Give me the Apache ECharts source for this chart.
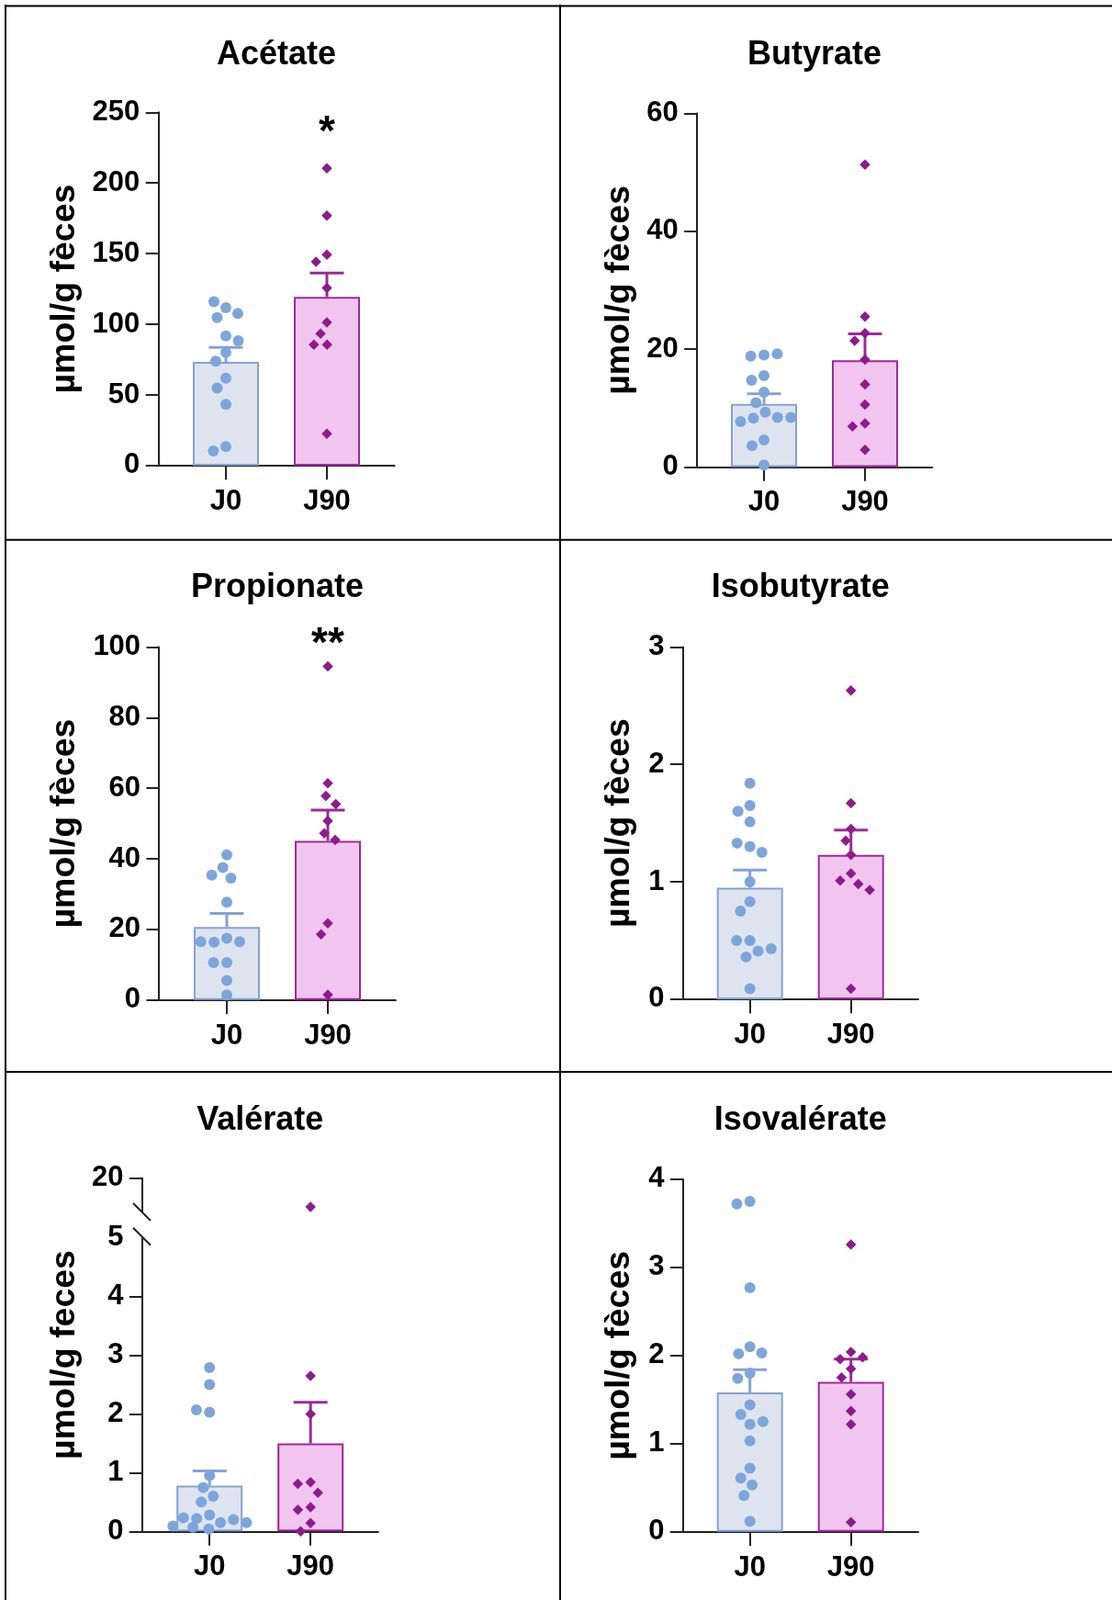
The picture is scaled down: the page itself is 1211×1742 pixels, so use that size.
<!DOCTYPE html>
<html>
<head>
<meta charset="utf-8">
<script src="https://cdn.jsdelivr.net/npm/echarts@6/dist/echarts.min.js"></script>
<style>
html,body{margin:0;padding:0;background:#fff;}
#chart{width:1211px;height:1742px;}
</style>
</head>
<body>
<div id="chart"></div>
<script>
// ---------------- DATA ----------------
const categories = ['J0', 'J90'];

// Acétate
const acetateJ0 = [111.8, 116, 107.6, 104.7, 91.7, 88.3, 80, 73.9, 61.9, 54.8, 43.3, 13.5, 10.3];
const acetateJ90 = [210.4, 176.9, 149.2, 144.3, 125.7, 101.3, 93.4, 85.6, 85.6, 22.5];
const acetateMean = [73.4, 119.4];
const acetateSem = [10.3, 16.9];
const acetateTicks = [0, 50, 100, 150, 200, 250];

// Butyrate
const butyrateJ0 = [19.0, 18.8, 19.2, 15.5, 14.7, 12.7, 10.9, 9.3, 8.3, 8.4, 7.7, 8.4, 4.6, 3.6, 0.35];
const butyrateJ90 = [51.3, 25.5, 22.7, 21.4, 18.2, 14.0, 10.6, 7.4, 6.9, 2.9];
const butyrateMean = [10.7, 18.1];
const butyrateSem = [1.7, 4.5];
const butyrateTicks = [0, 20, 40, 60];

// Propionate
const propionateJ0 = [41.1, 37.5, 34.5, 35.4, 27.7, 17.5, 16.4, 16.5, 16.5, 10.6, 10.6, 5.5, 1.4];
const propionateJ90 = [94.5, 61.4, 57.8, 55.5, 50.7, 47.2, 45.3, 21.7, 18.6, 1.5];
const propionateMean = [20.7, 45.1];
const propionateSem = [3.8, 8.7];
const propionateTicks = [0, 20, 40, 60, 80, 100];

// Isobutyrate
const isobutyrateJ0 = [1.84, 1.65, 1.60, 1.51, 1.30, 1.33, 1.25, 1.00, 0.83, 0.75, 0.50, 0.50, 0.41, 0.43, 0.36, 0.09];
const isobutyrateJ90 = [2.63, 1.67, 1.45, 1.35, 1.23, 1.07, 1.01, 0.98, 0.93, 0.09];
const isobutyrateMean = [0.95, 1.23];
const isobutyrateSem = [0.15, 0.21];
const isobutyrateTicks = [0, 1, 2, 3];

// Valérate (broken axis: 0-5 and 5-20)
const valerateJ0 = [2.79, 2.50, 2.03, 2.07, 0.95, 0.75, 0.60, 0.50, 0.28, 0.22, 0.15, 0.20, 0.23, 0.15, 0.09, 0.04, 0.07];
const valerateJ90 = [7.2, 2.65, 2.0, 0.84, 0.81, 0.66, 0.41, 0.37, 0.14, 0.0];
const valerateMean = [0.78, 1.50];
const valerateSem = [0.25, 0.70];
const valerateTicksLower = [0, 1, 2, 3, 4, 5];
const valerateTicksUpper = [5, 20];

// Isovalérate
const isovalerateJ0 = [3.75, 3.72, 2.77, 2.10, 2.02, 2.03, 1.80, 1.74, 1.44, 1.33, 1.22, 1.25, 1.03, 0.72, 0.61, 0.53, 0.41, 0.12];
const isovalerateJ90 = [3.26, 2.04, 1.96, 1.98, 1.85, 1.75, 1.56, 1.37, 1.22, 0.11];
const isovalerateMean = [1.58, 1.70];
const isovalerateSem = [0.26, 0.26];
const isovalerateTicks = [0, 1, 2, 3, 4];

// ---------------- STYLE / LAYOUT ----------------
const FONT = "'Liberation Sans', Arial, Helvetica, sans-serif";
const AX = '#222222';
const COL = [
  {fill: '#dde4f0', border: '#86a2cf', dot: '#7ea5da', err: '#86a2cf'},
  {fill: '#f2c5f1', border: '#9c2b97', dot: '#8d1b8a', err: '#9c2b97'}
];

const panels = [
  {title: 'Acétate', name: 'µmol/g fèces', j0: acetateJ0, j90: acetateJ90, mean: acetateMean, sem: acetateSem, ticks: acetateTicks, sig: '*',
   axisX: 172.3, c: 301, top: 122.3, bottom: 506.9, titleY: 60, sigY: 145.5, nameRight: 90},
  {title: 'Butyrate', name: 'µmol/g fèces', j0: butyrateJ0, j90: butyrateJ90, mean: butyrateMean, sem: butyrateSem, ticks: butyrateTicks, sig: '',
   axisX: 758.8, c: 887, top: 123.4, bottom: 508.4, titleY: 60, nameRight: 694},
  {title: 'Propionate', name: 'µmol/g fèces', j0: propionateJ0, j90: propionateJ90, mean: propionateMean, sem: propionateSem, ticks: propionateTicks, sig: '**',
   axisX: 173.1, c: 302, top: 704.4, bottom: 1088.7, titleY: 640, sigY: 702.5, nameRight: 90},
  {title: 'Isobutyrate', name: 'µmol/g fèces', j0: isobutyrateJ0, j90: isobutyrateJ90, mean: isobutyrateMean, sem: isobutyrateSem, ticks: isobutyrateTicks, sig: '',
   axisX: 743.4, c: 871.7, top: 704.4, bottom: 1087.9, titleY: 640, nameRight: 694},
  {title: 'Valérate', name: 'µmol/g feces', j0: valerateJ0, j90: valerateJ90, mean: valerateMean, sem: valerateSem, ticks: valerateTicksLower, upperTicks: valerateTicksUpper, sig: '',
   axisX: 154.5, c: 283.2, top: 1347.9, bottom: 1667.3, upperTop: 1282.7, upperBottom: 1319.5, titleY: 1220.5, nameRight: 90},
  {title: 'Isovalérate', name: 'µmol/g fèces', j0: isovalerateJ0, j90: isovalerateJ90, mean: isovalerateMean, sem: isovalerateSem, ticks: isovalerateTicks, sig: '',
   axisX: 743.4, c: 871.7, top: 1283.9, bottom: 1667.7, titleY: 1220.5, nameRight: 694}
];

const grid = [], xAxis = [], yAxis = [], series = [], graphic = [];
const BAND = 110, BARW = 72, CAP = 18.5;

const labelText = {fontFamily: FONT, fontWeight: 'bold', fontSize: 31, color: '#000'};

function addFrame(p, top, bottom) {
  const gi = grid.length;
  grid.push({left: p.axisX, top: top, width: 2 * (p.c - p.axisX), height: bottom - top});
  xAxis.push({gridIndex: gi, type: 'value', min: 0, max: 1,
    axisLine: {show: true, onZero: false, lineStyle: {color: AX, width: 2}},
    axisTick: {show: false}, axisLabel: {show: false}, splitLine: {show: false}});
  yAxis.push({gridIndex: gi, type: 'value', min: 0, max: 1,
    axisLine: {show: false}, axisTick: {show: false}, axisLabel: {show: false}, splitLine: {show: false},
    name: p.name, nameLocation: 'middle', nameRotate: 90, nameGap: p.axisX - p.nameRight,
    nameTextStyle: {fontFamily: FONT, fontWeight: 'bold', fontSize: 37.5, color: '#000'}});
}

function addDataGrid(p, top, bottom, ticks, opts) {
  const gi = grid.length;
  grid.push({left: p.c - BAND, top: top, width: 2 * BAND, height: bottom - top});
  xAxis.push({gridIndex: gi, type: 'category', data: categories, boundaryGap: true,
    jitter: 90, jitterOverlap: false, jitterMargin: 2.5,
    axisLine: {show: false},
    axisTick: {show: opts.showX, alignWithLabel: true, length: 15.4, lineStyle: {color: AX, width: 2}},
    axisLabel: Object.assign({show: opts.showX, margin: 24}, labelText),
    splitLine: {show: false}});
  const ya = {gridIndex: gi, type: 'value', min: ticks[0], max: ticks[ticks.length - 1],
    offset: (p.c - BAND) - p.axisX,
    axisLine: {show: true, onZero: false, lineStyle: {color: AX, width: 2}},
    axisTick: {show: true, length: 13.6, lineStyle: {color: AX, width: 2}},
    axisLabel: Object.assign({margin: 20}, labelText),
    splitLine: {show: false}};
  if (ticks.length > 1) ya.interval = ticks[1] - ticks[0];
  if (opts.tickValues) ya.axisTick.customValues = opts.tickValues;
  if (opts.labelValues) ya.axisLabel.customValues = opts.labelValues;
  yAxis.push(ya);
  return gi;
}

function addMarks(gi, p, j0, j90, withBars) {
  if (withBars) {
    series.push({type: 'bar', xAxisIndex: gi, yAxisIndex: gi, barWidth: BARW, z: 2, silent: true,
      data: p.mean.map((m, i) => ({value: m, itemStyle: {color: COL[i].fill, borderColor: COL[i].border, borderWidth: 2}}))});
    series.push({type: 'custom', xAxisIndex: gi, yAxisIndex: gi, z: 3, silent: true,
      encode: {x: 0, y: 1},
      data: p.mean.map((m, i) => [i, m, p.sem[i]]),
      renderItem: function (params, api) {
        const i = api.value(0), m = api.value(1), s = api.value(2);
        const b = api.coord([i, m]);
        const t = api.coord([i, m + s]);
        const col = COL[params.dataIndex].err;
        return {type: 'group', children: [
          {type: 'line', shape: {x1: b[0], y1: b[1], x2: t[0], y2: t[1]}, style: {stroke: col, lineWidth: 3}},
          {type: 'line', shape: {x1: t[0] - CAP, y1: t[1], x2: t[0] + CAP, y2: t[1]}, style: {stroke: col, lineWidth: 3}}
        ]};
      }});
  }
  if (j0.length) series.push({type: 'scatter', xAxisIndex: gi, yAxisIndex: gi, z: 4, silent: true,
    symbol: 'circle', symbolSize: 12, itemStyle: {color: COL[0].dot, opacity: 1},
    data: j0.map(v => [0, v])});
  if (j90.length) series.push({type: 'scatter', xAxisIndex: gi, yAxisIndex: gi, z: 5, silent: true,
    symbol: 'diamond', symbolSize: 11.5, itemStyle: {color: COL[1].dot, opacity: 1},
    data: j90.map(v => [1, v])});
}

panels.forEach(p => {
  if (p.upperTicks) {
    const brk = p.ticks[p.ticks.length - 1];
    addFrame(p, p.upperTop, p.bottom);
    const gLow = addDataGrid(p, p.top, p.bottom, p.ticks,
      {showX: true, tickValues: p.ticks.slice(0, -1), labelValues: p.ticks});
    addMarks(gLow, p, p.j0.filter(v => v <= brk), p.j90.filter(v => v <= brk), true);
    const up = p.upperTicks;
    const gUp = addDataGrid(p, p.upperTop, p.upperBottom, up,
      {showX: false, tickValues: up.slice(1), labelValues: up.slice(1)});
    addMarks(gUp, p, p.j0.filter(v => v > brk), p.j90.filter(v => v > brk), false);
    // break slashes on the axis
    [p.upperBottom, p.top - 1.6].forEach(y => {
      graphic.push({type: 'line', silent: true, z: 10,
        shape: {x1: p.axisX - 9.5, y1: y - 9.5, x2: p.axisX + 9.5, y2: y + 9.5},
        style: {stroke: AX, lineWidth: 2}});
    });
  } else {
    addFrame(p, p.top, p.bottom);
    const g = addDataGrid(p, p.top, p.bottom, p.ticks, {showX: true});
    addMarks(g, p, p.j0, p.j90, true);
  }
  graphic.push({type: 'text', silent: true, x: p.c, y: p.titleY,
    style: {text: p.title, fontFamily: FONT, fontWeight: 'bold', fontSize: 36, fill: '#000',
      textAlign: 'center', textVerticalAlign: 'middle'}});
  if (p.sig) {
    graphic.push({type: 'text', silent: true, x: p.c + BAND / 2, y: p.sigY,
      style: {text: p.sig, fontFamily: FONT, fontWeight: 'bold', fontSize: 46, fill: '#000',
        textAlign: 'center', textVerticalAlign: 'middle'}});
  }
});

// table borders
const borders = [
  [5, 6.5, 1211, 6.5], [6, 5, 6, 1742], [610, 5, 610, 1742],
  [5, 587.7, 1211, 587.7], [5, 1167, 1211, 1167]
];
borders.forEach(b => graphic.push({type: 'line', silent: true, z: 20,
  shape: {x1: b[0], y1: b[1], x2: b[2], y2: b[3]}, style: {stroke: '#000', lineWidth: 2}}));

const chart = echarts.init(document.getElementById('chart'), null, {renderer: 'canvas'});
chart.setOption({
  animation: false,
  backgroundColor: '#ffffff',
  grid: grid, xAxis: xAxis, yAxis: yAxis, series: series, graphic: graphic
});
</script>
</body>
</html>
